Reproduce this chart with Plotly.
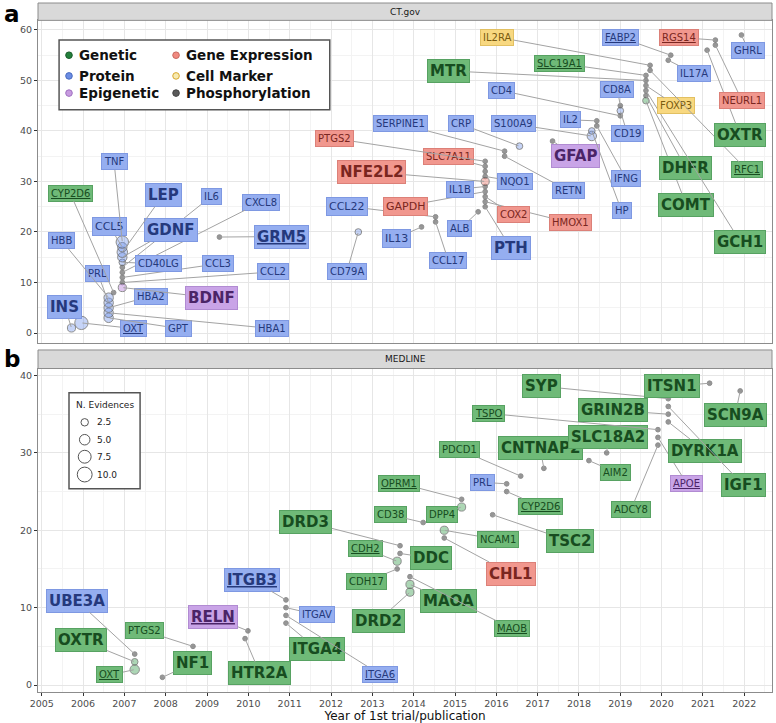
import math
import plotly.graph_objects as go

# ---------------- data: CT.gov panel ----------------
ct_genes = ["INS", "OXT", "GPT", "HBA1", "HBA2", "PRL", "HBB", "CYP2D6", "BDNF", "CCL2",
            "CCL3", "CXCL8", "IL6", "CD40LG", "GDNF", "LEP", "CCL5", "TNF", "GRM5", "CD79A",
            "IL13", "CCL17", "CCL22", "ALB", "PTH", "HMOX1", "COX2", "GAPDH", "IL1B", "NFE2L2",
            "NQO1", "", "SLC7A11", "PTGS2", "RETN", "SERPINE1", "CRP", "GFAP", "S100A9", "HP",
            "IFNG", "IL2", "CD4", "CD19", "CD8A", "COMT", "DHFR", "GCH1", "FOXP3", "MTR",
            "SLC19A1", "RFC1", "IL2RA", "IL17A", "FABP2", "OXTR", "NEURL1", "RGS14", "GHRL"]
ct_types = ["P", "P", "P", "P", "P", "P", "P", "G", "E", "P",
            "P", "P", "P", "P", "P", "P", "P", "P", "P", "P",
            "P", "P", "P", "P", "P", "R", "R", "R", "P", "R",
            "P", "P", "R", "R", "P", "P", "P", "E", "P", "P",
            "P", "P", "P", "P", "P", "G", "G", "G", "C", "G",
            "G", "G", "C", "P", "P", "G", "R", "R", "P"]
ct_year = [2005.72, 2005.96, 2006.62, 2006.62, 2006.62, 2006.62, 2006.62, 2006.74, 2006.95, 2006.95,
           2006.95, 2006.95, 2006.95, 2006.95, 2006.95, 2006.95, 2006.95, 2006.95, 2009.30, 2012.66,
           2014.19, 2014.53, 2014.53, 2015.56, 2015.73, 2015.73, 2015.73, 2015.73, 2015.73, 2015.73,
           2015.73, 2015.73, 2015.73, 2015.73, 2016.20, 2016.20, 2016.56, 2017.36, 2018.31, 2018.31,
           2018.43, 2018.43, 2019.00, 2019.00, 2019.00, 2019.62, 2019.62, 2019.62, 2019.62, 2019.62,
           2019.62, 2019.72, 2019.72, 2020.16, 2020.22, 2021.10, 2021.30, 2021.30, 2021.93]
ct_rank = [1, 2, 3, 4, 5, 6, 7, 8, 9, 10,
           11, 12, 13, 14, 15, 16, 17, 18, 19, 20,
           21, 22, 23, 24, 25, 26, 27, 28, 29, 30,
           31, 32, 33, 34, 35, 36, 37, 38, 39, 40,
           41, 42, 43, 44, 45, 46, 47, 48, 49, 50,
           51, 52, 53, 54, 55, 56, 57, 58, 59]
ct_evid = [3, 8, 4, 4, 4, 4, 4, 1, 3, 1,
           1, 1, 1, 2, 4, 5, 4, 7, 1, 2,
           1, 1, 1, 1, 1, 1, 1, 1, 1, 3,
           1, 1, 1, 1, 1, 1, 2, 1, 4, 2,
           1, 1, 1, 2, 1, 2, 1, 1, 1, 1,
           1, 1, 1, 1, 1, 1, 1, 1, 1]

# ---------------- data: MEDLINE panel ----------------
md_genes = ["NF1", "OXT", "OXTR", "UBE3A", "PTGS2", "HTR2A", "RELN", "ITGA4", "ITGA6", "ITGAV",
            "ITGB3", "DRD2", "MAOA", "MAOB", "CDH17", "CDH2", "DDC", "DRD3", "CHL1", "NCAM1",
            "CD38", "TSC2", "DPP4", "OPRM1", "CYP2D6", "PRL", "PDCD1", "CNTNAP2", "AIM2", "SLC18A2",
            "ADCY8", "APOE", "TSPO", "DYRK1A", "GRIN2B", "IGF1", "SYP", "SCN9A", "ITSN1"]
md_types = ["G", "G", "G", "P", "G", "G", "E", "G", "P", "P",
            "P", "G", "G", "G", "G", "G", "G", "G", "R", "G",
            "G", "G", "G", "G", "G", "P", "G", "G", "G", "G",
            "G", "E", "G", "G", "G", "G", "G", "G", "G"]
md_year = [2007.92, 2007.25, 2007.25, 2007.25, 2008.66, 2009.92, 2009.99, 2010.91, 2010.91, 2010.91,
           2010.91, 2013.91, 2013.91, 2013.91, 2013.60, 2013.60, 2013.67, 2013.67, 2014.74, 2014.74,
           2014.23, 2015.91, 2015.16, 2015.16, 2016.25, 2016.25, 2016.59, 2017.15, 2018.24, 2018.67,
           2019.91, 2019.91, 2019.91, 2020.16, 2020.16, 2020.16, 2020.16, 2021.90, 2021.16]
md_rank = [1, 2, 3, 4, 5, 6, 7, 8, 9, 10,
           11, 12, 13, 14, 15, 16, 17, 18, 19, 20,
           21, 22, 23, 24, 25, 26, 27, 28, 29, 30,
           31, 32, 33, 34, 35, 36, 37, 38, 39]
md_evid = [1, 4, 2, 1, 1, 1, 1, 1, 1, 1,
           1, 3, 3, 1, 1, 3, 1, 1, 1, 3,
           1, 1, 3, 1, 1, 1, 1, 1, 1, 1,
           1, 1, 1, 1, 1, 1, 1, 1, 1]

# ---------------- label placement (layout, not data) ----------------
ct_lab_x = [2005.56, 2007.21, 2008.32, 2010.56, 2007.64, 2006.36, 2005.48, 2005.69, 2009.11, 2010.60,
            2009.27, 2010.30, 2009.11, 2007.82, 2008.12, 2007.94, 2006.65, 2006.75, 2010.80, 2012.38,
            2013.59, 2014.84, 2012.38, 2015.12, 2016.35, 2017.80, 2016.41, 2013.79, 2015.12, 2012.98,
            2016.45, None, 2014.84, 2012.09, 2017.74, 2013.69, 2015.14, 2017.92, 2016.41, 2019.03,
            2019.14, 2017.80, 2016.13, 2019.17, 2018.93, 2020.60, 2020.58, 2021.90, 2020.35, 2014.84,
            2017.53, 2022.06, 2016.02, 2020.79, 2019.01, 2021.90, 2021.94, 2020.42, 2022.10]
ct_lab_y = [5.2, 0.9, 0.9, 0.9, 7.3, 11.7, 18.3, 27.7, 7.0, 12.1,
            13.7, 25.9, 27.1, 13.7, 20.4, 27.3, 21.0, 33.9, 19.1, 12.1,
            18.8, 14.3, 25.1, 20.6, 16.8, 21.8, 23.4, 25.1, 28.5, 31.9,
            30.0, None, 34.9, 38.5, 28.2, 41.4, 41.4, 35.1, 41.4, 24.2,
            30.5, 42.2, 48.0, 39.5, 48.2, 25.3, 32.7, 18.1, 45.0, 51.9,
            53.4, 32.3, 58.6, 51.4, 58.5, 39.2, 46.1, 58.5, 56.0]
md_lab_x = [2008.65, 2006.65, 2005.96, 2005.85, 2007.49, 2010.28, 2009.15, 2011.65, 2013.18, 2011.65,
            2010.08, 2013.14, 2014.84, 2016.37, 2012.86, 2012.84, 2014.43, 2011.39, 2016.35, 2016.03,
            2013.43, 2017.78, 2014.68, 2013.65, 2017.07, 2015.66, 2015.12, 2017.06, 2018.89, 2018.71,
            2019.26, 2020.61, 2015.82, 2021.04, 2018.83, 2021.98, 2017.10, 2021.78, 2020.25]
md_lab_y = [2.8, 1.3, 5.8, 10.9, 7.0, 1.5, 8.8, 4.7, 1.4, 9.1,
            13.6, 8.3, 10.8, 7.3, 13.4, 17.6, 16.4, 21.1, 14.4, 18.8,
            22.0, 18.6, 22.1, 26.1, 23.1, 26.2, 30.4, 30.6, 27.5, 32.1,
            22.7, 26.0, 35.1, 30.3, 35.5, 25.8, 38.6, 34.9, 38.6]

ct_big = {"INS", "LEP", "GDNF", "BDNF", "GRM5", "NFE2L2", "PTH", "MTR", "GFAP",
          "DHFR", "COMT", "GCH1", "OXTR"}
ct_med = {"CCL5", "CCL22", "GAPDH", "IL13"}
ct_und = {"CYP2D6", "OXT", "GRM5", "SLC19A1", "RFC1", "FABP2", "RGS14"}
md_big = {"NF1", "OXTR", "UBE3A", "HTR2A", "RELN", "ITGA4", "ITGB3", "DRD2", "MAOA", "DDC",
          "DRD3", "CHL1", "TSC2", "CNTNAP2", "SLC18A2", "DYRK1A", "GRIN2B", "IGF1", "SYP",
          "SCN9A", "ITSN1"}
md_med = set()
md_und = {"OXT", "ITGA6", "CDH2", "MAOB", "OPRM1", "CYP2D6", "TSPO", "APOE", "ITGB3", "RELN"}

# ---------------- styles ----------------
type_codes = ["G", "P", "E", "R", "C", "F"]
type_names = ["Genetic", "Protein", "Epigenetic", "Gene Expression", "Cell Marker", "Phosphorylation"]
point_fill = {"G": "rgba(60,160,80,0.6)", "P": "rgba(110,145,235,0.55)", "E": "rgba(180,120,215,0.6)",
              "R": "rgba(232,120,108,0.6)", "C": "rgba(240,192,64,0.6)", "F": "rgba(85,85,85,0.8)"}
single_fill = "#6a6a6a"
label_fill = {"G": "#6fba78", "P": "#95aef0", "E": "#c9a4e7", "R": "#f1978e", "C": "#f8d880"}
label_border = {"G": "#57a262", "P": "#7e98e2", "E": "#b18bd2", "R": "#dc8078", "C": "#e2c062"}
label_text = {"G": "#174d20", "P": "#25397c", "E": "#4b2467", "R": "#7a2620", "C": "#7a5c10"}
legend_fill = ["#23803c", "#6b8de3", "#c79be0", "#f08a80", "#f7eab0", "#5a5a5a"]
legend_line = ["#1a5c2b", "#4a6cc0", "#a070c0", "#c86860", "#d8a830", "#444444"]

FONT = "DejaVu Sans"
fig = go.Figure()


def dsize(n):
    return 4.7 * math.sqrt(n)


def add_panel(genes, types, years, ranks, evid, lx, ly, big, med, und, xa, ya):
    for t in type_codes:
        idx = [i for i in range(len(genes)) if types[i] == t]
        if not idx:
            continue
        fig.add_trace(go.Scatter(
            x=[years[i] for i in idx], y=[ranks[i] for i in idx],
            xaxis=xa, yaxis=ya, mode="markers", showlegend=False,
            text=[genes[i] for i in idx], hoverinfo="text",
            marker=dict(size=[dsize(evid[i]) for i in idx],
                        color=[single_fill if evid[i] == 1 else point_fill[t] for i in idx],
                        line=dict(color="#5e5e5e", width=1))))
    xr = "x" if xa == "x" else "x2"
    yr = "y" if ya == "y" else "y2"
    for i, g in enumerate(genes):
        if not g or lx[i] is None:
            continue
        t = types[i]
        txt = g
        if g in und:
            txt = '<span style="text-decoration:underline">' + g + '</span>'
        if g in big:
            fs, fw = 15, "bold"
        elif g in med:
            fs, fw = 11, "normal"
        else:
            fs, fw = 10, "normal"
        fig.add_annotation(
            x=years[i], y=ranks[i], xref=xr, yref=yr,
            ax=lx[i], ay=ly[i], axref=xr, ayref=yr,
            text=txt, showarrow=True, arrowhead=0, arrowwidth=1, arrowcolor="#a3a3a3",
            standoff=1, startstandoff=0,
            font=dict(family=FONT, size=fs, color=label_text[t], weight=fw),
            bgcolor=label_fill[t], bordercolor=label_border[t], borderwidth=1, borderpad=2)


add_panel(ct_genes, ct_types, ct_year, ct_rank, ct_evid, ct_lab_x, ct_lab_y,
          ct_big, ct_med, ct_und, "x", "y")
add_panel(md_genes, md_types, md_year, md_rank, md_evid, md_lab_x, md_lab_y,
          md_big, md_med, md_und, "x2", "y2")

# ---------------- layout geometry ----------------
TOP_DOM = [0.5071, 0.9748]
BOT_DOM = [0.0, 0.4695]
XR = [2004.91, 2022.67]

grid = "#e6e6e6"
minor_grid = "#f3f3f3"
border = "#8c8c8c"
axis_common = dict(showline=True, mirror=True, linecolor=border, linewidth=1, zeroline=False,
                   showgrid=True, gridcolor=grid, gridwidth=1)

fig.update_layout(
    width=776, height=723,
    margin=dict(l=38, r=4, t=3, b=31),
    paper_bgcolor="white", plot_bgcolor="white",
    font=dict(family=FONT, color="#333333"),
    showlegend=False,
    xaxis=dict(domain=[0, 1], anchor="y", range=XR, tick0=2005, dtick=1, showticklabels=False,
               ticks="", minor=dict(dtick=0.5, showgrid=True, gridcolor=minor_grid),
               **axis_common),
    xaxis2=dict(domain=[0, 1], anchor="y2", range=XR, matches="x", tick0=2005, dtick=1,
                ticks="outside", ticklen=3, tickcolor="#333333",
                tickfont=dict(size=9.5, color="#4d4d4d"),
                minor=dict(dtick=0.5, showgrid=True, gridcolor=minor_grid),
                title=dict(text="Year of 1st trial/publication", font=dict(size=12, color="#111111"),
                           standoff=2),
                automargin=False, **axis_common),
    yaxis=dict(domain=TOP_DOM, anchor="x", range=[-1.9, 61.9], tick0=0, dtick=10,
               ticks="outside", ticklen=3, tickcolor="#333333",
               tickfont=dict(size=9.5, color="#4d4d4d"),
               minor=dict(dtick=5, showgrid=True, gridcolor=minor_grid),
               automargin=False, **axis_common),
    yaxis2=dict(domain=BOT_DOM, anchor="x2", range=[-0.9, 40.9], tick0=0, dtick=10,
                ticks="outside", ticklen=3, tickcolor="#333333",
                tickfont=dict(size=9.5, color="#4d4d4d"),
                minor=dict(dtick=5, showgrid=True, gridcolor=minor_grid),
                automargin=False, **axis_common),
)

shapes = []
# facet strips
for y0, y1, label in [(0.9748, 1.0, "CT.gov"), (0.4695, 0.4964, "MEDLINE")]:
    shapes.append(dict(type="rect", xref="paper", yref="paper", x0=0, x1=1, y0=y0, y1=y1,
                       fillcolor="#d9d9d9", line=dict(color=border, width=1), layer="above"))
    fig.add_annotation(xref="paper", yref="paper", x=0.5, y=(y0 + y1) / 2, text=label,
                       showarrow=False, font=dict(size=9, color="#1a1a1a"),
                       xanchor="center", yanchor="middle")

# panel letters
fig.add_annotation(xref="paper", yref="paper", x=-0.036, y=0.984, text="<b>a</b>", showarrow=False,
                   font=dict(size=23, color="black"), xanchor="center", yanchor="middle")
fig.add_annotation(xref="paper", yref="paper", x=-0.036, y=0.484, text="<b>b</b>", showarrow=False,
                   font=dict(size=23, color="black"), xanchor="center", yanchor="middle")

# type legend (top panel)
shapes.append(dict(type="rect", xref="x", yref="y", x0=2005.42, x1=2011.97, y0=44.2, y1=58.0,
                   fillcolor="white", line=dict(color="#555555", width=1.5), layer="above"))
leg_cols = [2005.66, 2008.25]
leg_rows = [55.0, 50.9, 47.5]
for k, name in enumerate(type_names):
    cx = leg_cols[k // 3]
    cy = leg_rows[k % 3]
    shapes.append(dict(type="circle", xref="x", yref="y", xsizemode="pixel", ysizemode="pixel",
                       xanchor=cx, yanchor=cy, x0=-3.3, x1=3.3, y0=-3.3, y1=3.3,
                       fillcolor=legend_fill[k], line=dict(color=legend_line[k], width=1),
                       layer="above"))
    fig.add_annotation(xref="x", yref="y", x=cx + 0.2, y=cy, text=name, showarrow=False,
                       xanchor="left", yanchor="middle",
                       font=dict(size=13.5, color="#111111", weight="bold"))

# size legend (bottom panel)
size_vals = [2.5, 5.0, 7.5, 10.0]
size_labels = ["2.5", "5.0", "7.5", "10.0"]
size_rows = [33.95, 31.7, 29.5, 27.2]
shapes.append(dict(type="rect", xref="x2", yref="y2", x0=2005.66, x1=2007.38, y0=25.37, y1=37.76,
                   fillcolor="white", line=dict(color="#555555", width=1.5), layer="above"))
fig.add_annotation(xref="x2", yref="y2", x=2006.52, y=36.25, text="N. Evidences", showarrow=False,
                   xanchor="center", yanchor="middle", font=dict(size=9, color="#222222"))
for v, lab, yy in zip(size_vals, size_labels, size_rows):
    d = dsize(v)
    shapes.append(dict(type="circle", xref="x2", yref="y2", xsizemode="pixel", ysizemode="pixel",
                       xanchor=2006.04, yanchor=yy, x0=-d / 2, x1=d / 2, y0=-d / 2, y1=d / 2,
                       fillcolor="white", line=dict(color="#555555", width=1), layer="above"))
    fig.add_annotation(xref="x2", yref="y2", x=2006.3, y=yy, text=lab, showarrow=False,
                       xanchor="left", yanchor="middle", font=dict(size=9, color="#222222"))

fig.update_layout(shapes=shapes)
fig.write_html("out.html", config={"displayModeBar": False},
               post_script="document.body.style.margin='0';"
                           "document.body.style.overflow='hidden';")
